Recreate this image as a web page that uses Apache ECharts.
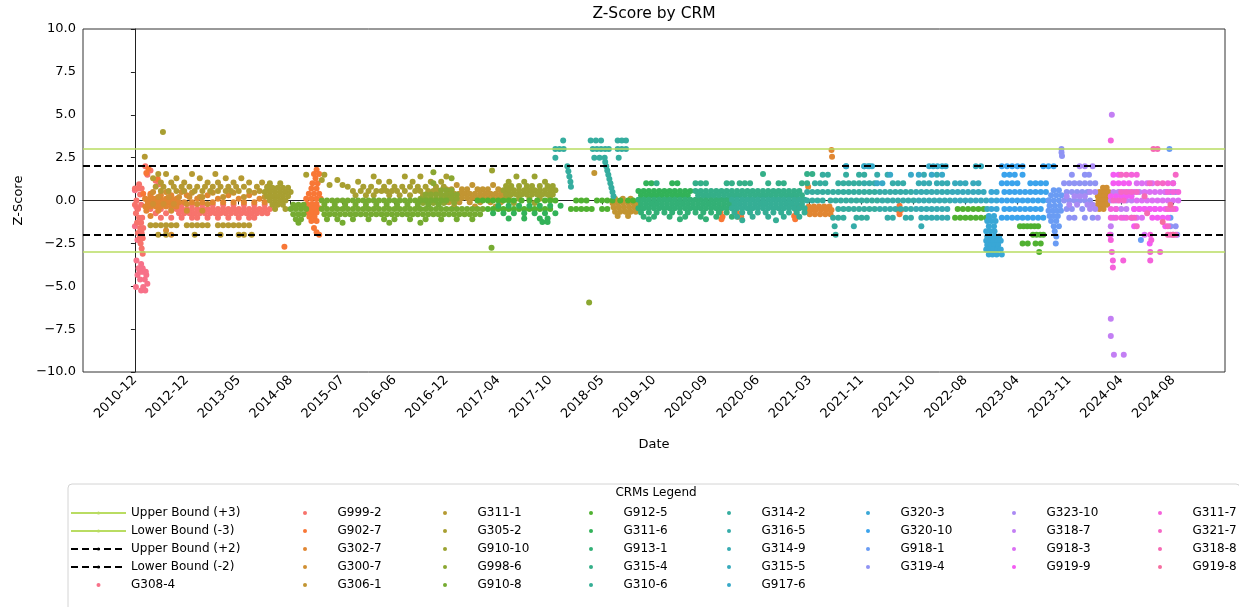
<!DOCTYPE html>
<html>
<head>
<meta charset="utf-8">
<title>Z-Score by CRM</title>
<script src="https://cdn.jsdelivr.net/npm/echarts@6/dist/echarts.min.js"></script>
<style>
  html, body { margin: 0; padding: 0; background: #fff; }
  #main { width: 1239px; height: 607px; }
</style>
</head>
<body>
<div id="main"></div>
<script>
// x tick labels, one per tick position 0..20
const dateLabels = ['2010-12', '2012-12', '2013-05', '2014-08', '2015-07', '2016-06', '2016-12',
  '2017-04', '2017-10', '2018-05', '2019-10', '2020-09', '2020-06', '2021-03', '2021-11',
  '2021-10', '2022-08', '2023-04', '2023-11', '2024-04', '2024-08'];

const crmNames = ['G308-4', 'G999-2', 'G902-7', 'G302-7', 'G300-7', 'G306-1', 'G311-1', 'G305-2',
  'G910-10', 'G998-6', 'G910-8', 'G912-5', 'G311-6', 'G913-1', 'G315-4', 'G310-6', 'G314-2',
  'G316-5', 'G314-9', 'G315-5', 'G917-6', 'G320-3', 'G320-10', 'G918-1', 'G319-4', 'G323-10',
  'G318-7', 'G918-3', 'G919-9', 'G311-7', 'G321-7', 'G318-8', 'G919-8'];

const boundNames = ['Upper Bound (+3)', 'Lower Bound (-3)', 'Upper Bound (+2)', 'Lower Bound (-2)'];
const boundValues = [3, -3, 2, -2];

// rows: [z-score, x, x, ...]  (x in tick units, 0 = first date tick)
const g308_4 = [
  [-5.25, 0.12, 0.2], [-5.05, 0.02, 0.16], [-4.85, 0.24], [-4.6, 0.1, 0.19], [-4.35, 0.05, 0.22],
  [-4.15, 0.09, 0.13, 0.17, 0.21], [-3.95, 0.07, 0.15], [-3.7, 0.12], [-3.5, 0.03],
  [-2.3, 0.05], [-1.5, 0.0], [-0.4, 0.03], [0.6, 0.0]
];
const g999_2 = [
  [2.0, 0.2], [1.75, 0.3], [1.5, 0.24], [1.15, 0.4], [0.95, 0.08, 0.46], [0.7, 0.0, 0.06, 0.13],
  [0.35, 0.1], [0.0, 0.03],
  [-0.25, 0.0, 0.12, 0.9, 1.1, 1.3, 1.5, 1.7, 1.9, 2.1, 2.3, 2.5],
  [-0.5, 0.06, 0.3, 0.5, 0.7, 0.8, 0.9, 1.0, 1.1, 1.2, 1.3, 1.4, 1.5, 1.6, 1.7, 1.8, 1.9, 2.0, 2.1, 2.2, 2.3, 2.4, 2.5, 2.6],
  [-0.75, 0.02, 0.4, 0.6, 0.85, 0.95, 1.05, 1.15, 1.25, 1.35, 1.45, 1.55, 1.65, 1.75, 1.85, 1.95, 2.05, 2.15, 2.25, 2.35, 2.45, 2.55],
  [-1.0, 0.08, 0.14, 0.5, 0.7, 0.9, 1.1, 1.2, 1.4, 1.6, 1.8, 2.0, 2.2, 2.3],
  [-1.3, 0.04, 0.12], [-1.6, 0.1, 0.16], [-1.9, 0.06, 0.13], [-2.2, 0.09, 0.15], [-2.5, 0.11],
  [-2.8, 0.13], [-3.1, 0.15]
];
const g902_7 = [
  [1.85, 0.26], [1.6, 0.22], [1.25, 0.44], [0.4, 0.16, 0.3], [0.1, 0.2, 0.35], [-0.2, 0.25, 0.45],
  [-2.7, 2.88],
  [1.8, 3.5], [1.55, 3.45, 3.55], [1.3, 3.48], [1.0, 3.42, 3.52], [0.7, 3.4, 3.5],
  [0.4, 3.35, 3.45, 3.55], [0.1, 3.3, 3.4, 3.5, 3.58], [-0.2, 3.32, 3.42, 3.5],
  [-0.45, 3.3, 3.38, 3.46, 3.55], [-0.7, 3.34, 3.42, 3.5], [-0.95, 3.36, 3.46], [-1.2, 3.4, 3.5],
  [-1.6, 3.45], [-1.85, 3.5], [-2.0, 3.55],
  [-0.45, 11.3], [-0.7, 11.28, 11.6], [-0.95, 11.32, 11.62, 11.68], [-1.1, 11.3],
  [0.1, 12.72], [-0.3, 12.7, 12.78], [-0.6, 12.74], [-0.9, 12.7, 12.76], [-1.1, 12.72],
  [-0.3, 14.73], [-0.55, 14.7, 14.76], [-0.8, 14.73]
];
const g302_7 = [
  [0.3, 0.3, 0.5, 0.7, 1.0, 1.4, 1.8, 2.2],
  [0.1, 0.2, 0.3, 0.4, 0.5, 0.6, 0.7, 0.8, 1.2, 1.6, 2.0, 2.4],
  [-0.1, 0.25, 0.35, 0.45, 0.55, 0.65, 0.75, 0.85, 0.95, 1.1, 1.3, 1.5, 1.7, 1.9, 2.1, 2.3, 2.5],
  [-0.35, 0.2, 0.3, 0.4, 0.5, 0.6, 0.7, 0.8], [-0.6, 0.22, 0.45], [-0.9, 0.3],
  [0.8, 12.97], [-0.35, 12.98, 13.08, 13.18, 13.28, 13.38],
  [-0.55, 12.95, 13.03, 13.12, 13.22, 13.32, 13.42], [-0.8, 13.0, 13.1, 13.2, 13.3, 13.4],
  [2.95, 13.42], [2.55, 13.43]
];
const g300_7 = [
  [0.5, 0.35, 0.6, 0.9], [0.2, 0.45, 0.65, 0.85, 1.05, 1.25], [-0.2, 0.35, 0.55, 0.75, 1.0, 1.2, 1.4],
  [-0.6, 0.7, 1.0, 1.3], [-1.75, 0.6], [-2.0, 0.7],
  [0.75, 18.65, 18.72], [0.5, 18.58, 18.64, 18.7, 18.76], [0.25, 18.55, 18.61, 18.67, 18.73, 18.78],
  [0.0, 18.56, 18.62, 18.68, 18.74], [-0.25, 18.55, 18.61, 18.67, 18.73], [-0.5, 18.58, 18.66]
];
const g306_1 = [
  [0.45, 1.1, 1.5, 1.9, 2.3], [0.2, 1.3, 1.7, 2.1, 2.5],
  [0.9, 6.2, 6.5, 6.9], [0.65, 6.0, 6.1, 6.3, 6.4, 6.6, 6.7, 6.8, 7.0, 7.2],
  [0.4, 6.05, 6.15, 6.25, 6.35, 6.45, 6.55, 6.65, 6.75, 6.85, 6.95, 7.05, 7.15],
  [0.15, 6.0, 6.1, 6.2, 6.3, 6.4, 6.5, 6.6, 6.7, 6.8, 6.9, 7.0, 7.1, 7.2],
  [-0.1, 6.05, 6.25, 6.45, 6.65, 6.85, 7.05], [-0.35, 6.15, 6.55, 6.95],
  [0.1, 9.25, 9.4, 9.55], [-0.15, 9.2, 9.3, 9.4, 9.5, 9.6, 9.7],
  [-0.4, 9.22, 9.32, 9.42, 9.52, 9.62, 9.7], [-0.65, 9.25, 9.35, 9.45, 9.55, 9.65], [-0.9, 9.3, 9.5],
  [1.6, 8.85]
];
const g311_1 = [
  [2.55, 0.19],
  [1.55, 0.45, 0.6, 1.1, 1.55], [1.3, 0.35, 0.8, 1.25, 1.75, 2.05],
  [1.05, 0.5, 0.7, 0.95, 1.4, 1.6, 1.9, 2.2, 2.45],
  [0.8, 0.4, 0.55, 0.75, 0.9, 1.05, 1.2, 1.35, 1.5, 1.65, 1.8, 1.95, 2.1, 2.35, 2.55],
  [0.55, 0.5, 0.65, 0.8, 0.95, 1.15, 1.3, 1.45, 1.6, 1.75, 1.85, 2.0, 2.2, 2.4, 2.6],
  [-1.45, 0.3, 0.4, 0.5, 0.6, 0.7, 0.8, 1.0, 1.1, 1.2, 1.3, 1.4, 1.6, 1.7, 1.8, 1.9, 2.0, 2.1, 2.2],
  [-2.0, 0.45, 0.6, 1.15, 1.65, 2.0, 2.1, 2.25]
];
const g305_2 = [
  [4.0, 0.54],
  [1.0, 2.6, 2.8], [0.75, 2.55, 2.65, 2.75, 2.85, 2.95], [0.5, 2.5, 2.6, 2.7, 2.8, 2.9, 3.0],
  [0.25, 2.55, 2.65, 2.75, 2.85, 2.95], [0.0, 2.6, 2.7, 2.8, 2.9], [-0.25, 2.65, 2.75, 2.85],
  [-0.5, 2.7, 2.9],
  [1.5, 3.3, 3.65], [1.2, 3.6, 3.9], [0.9, 3.75, 4.0],
  [1.4, 4.6, 5.2, 5.5, 6.0], [1.1, 4.3, 4.7, 4.9, 5.35, 5.7, 5.9],
  [0.8, 4.1, 4.4, 4.55, 4.8, 5.0, 5.15, 5.3, 5.45, 5.6, 5.8, 5.95],
  [0.55, 4.2, 4.35, 4.5, 4.65, 4.75, 4.85, 4.95, 5.05, 5.2, 5.4, 5.5, 5.65, 5.75, 5.85],
  [0.3, 4.25, 4.45, 4.6, 4.9, 5.1, 5.3, 5.55, 5.7, 5.9]
];
const g910_10 = [
  [1.75, 6.88], [1.4, 7.35, 7.7], [1.1, 7.2, 7.5, 7.9],
  [0.85, 7.15, 7.25, 7.4, 7.55, 7.65, 7.8, 7.95, 8.05],
  [0.6, 7.1, 7.2, 7.3, 7.4, 7.5, 7.6, 7.7, 7.8, 7.9, 8.0, 8.1],
  [0.35, 7.15, 7.25, 7.35, 7.45, 7.55, 7.65, 7.75, 7.85, 7.95, 8.05],
  [0.1, 7.2, 7.4, 7.6, 7.8, 8.0], [-0.15, 7.3, 7.7]
];
const g998_6 = [
  [-5.95, 8.75],
  [1.65, 5.75], [1.3, 6.1], [1.0, 5.75], [0.6, 5.9, 6.0, 6.1],
  [0.35, 5.6, 5.7, 5.8, 5.9, 6.0, 6.1, 6.2], [0.1, 5.5, 5.6, 5.7, 5.8, 5.9, 6.0, 6.1, 6.2],
  [-0.15, 5.55, 5.75, 5.95, 6.15]
];
const g910_8 = [
  [0.0, 3.6, 3.7, 3.8, 3.9, 4.0, 4.1, 4.2, 4.3, 4.4, 4.5, 4.6, 4.7, 4.8, 4.9, 5.0, 5.1, 5.2, 5.3, 5.4, 5.5, 5.6, 5.7, 5.8, 5.9, 6.0],
  [-0.25, 3.05, 3.15, 3.25, 3.65, 3.85, 4.05, 4.25, 4.45, 4.65, 4.85, 5.05, 5.25, 5.45, 5.65, 5.85],
  [-0.5, 3.0, 3.1, 3.2, 3.3, 3.6, 3.7, 3.8, 3.9, 4.0, 4.1, 4.2, 4.3, 4.4, 4.5, 4.6, 4.7, 4.8, 4.9, 5.0, 5.1, 5.2, 5.3, 5.4, 5.5, 5.6, 5.7, 5.8, 5.9, 6.0, 6.1, 6.2, 6.3, 6.4, 6.5, 6.6, 6.7],
  [-0.8, 3.05, 3.15, 3.25, 3.65, 3.75, 3.85, 3.95, 4.05, 4.15, 4.25, 4.35, 4.45, 4.55, 4.65, 4.75, 4.85, 4.95, 5.05, 5.15, 5.25, 5.35, 5.45, 5.55, 5.65, 5.75, 5.85, 5.95, 6.05, 6.15, 6.25, 6.35, 6.45, 6.55, 6.65],
  [-1.1, 3.1, 3.2, 3.7, 3.9, 4.2, 4.5, 4.8, 5.0, 5.3, 5.6, 5.9, 6.2, 6.5],
  [-1.3, 3.15, 4.0, 4.9, 5.5], [-2.75, 6.87]
];
const g912_5 = [
  [0.0, 6.6, 6.7, 6.8, 6.9, 7.0, 7.1, 7.2, 7.3, 7.45, 7.6, 7.75, 7.9, 8.0, 8.1, 8.5, 8.6, 8.7, 8.9, 9.0, 9.1, 9.2, 9.35, 9.5, 9.6],
  [-0.5, 6.8, 6.9, 7.0, 7.1, 7.2, 7.3, 7.4, 7.5, 7.6, 7.7, 7.8, 7.9, 8.0, 8.4, 8.5, 8.6, 8.7, 8.8, 9.0, 9.1],
  [-0.5, 15.85, 15.95, 16.05, 16.15, 16.25, 16.35], [-1.0, 15.8, 15.9, 16.0, 16.1, 16.2, 16.3, 16.4],
  [-1.5, 17.05, 17.12, 17.19, 17.26, 17.33, 17.4], [-2.0, 17.3, 17.37, 17.44, 17.5],
  [-2.5, 17.1, 17.2, 17.35, 17.45], [-3.0, 17.42]
];
const g311_6 = [
  [-0.3, 7.0, 7.2, 7.4, 7.6, 7.8, 8.0, 8.2], [-0.75, 6.9, 7.1, 7.3, 7.5, 7.7, 7.9, 8.1],
  [-1.05, 7.2, 7.5, 7.8, 7.95], [-1.25, 7.85, 7.95],
  [0.55, 9.7, 9.8, 9.9, 10.0, 10.1, 10.2, 10.3, 10.4, 10.5, 10.6, 10.7],
  [0.3, 9.75, 9.85, 9.95, 10.05, 10.15, 10.25, 10.35, 10.45, 10.55, 10.65],
  [1.0, 9.85, 9.95, 10.35, 10.45]
];
const g913_1 = [
  [0.05, 9.7, 9.8, 9.9, 10.0, 10.1, 10.2, 10.3, 10.4, 10.5, 10.6, 10.7, 10.8, 10.9, 11.0, 11.1, 11.2, 11.3, 11.4, 11.5],
  [-0.2, 9.75, 9.85, 9.95, 10.05, 10.15, 10.25, 10.35, 10.45, 10.55, 10.65, 10.75, 10.85, 10.95, 11.05, 11.15, 11.25, 11.35, 11.45],
  [-0.45, 9.7, 9.8, 9.9, 10.0, 10.1, 10.2, 10.3, 10.4, 10.5, 10.6, 10.7, 10.8, 10.9, 11.0, 11.1, 11.2, 11.3, 11.4, 11.5],
  [-0.7, 9.75, 9.9, 10.05, 10.2, 10.35, 10.5, 10.65, 10.8, 10.95, 11.1, 11.25, 11.4],
  [-0.95, 9.8, 10.0, 10.3, 10.6, 10.9, 11.2, 11.5], [-1.1, 9.9, 10.5, 11.0]
];
const g315_4 = [
  [0.55, 10.8, 10.9, 11.0, 11.1, 11.2, 11.3, 11.4, 11.5, 11.6, 11.7, 11.8, 11.9, 12.0, 12.1, 12.2, 12.3, 12.4, 12.5, 12.6, 12.7, 12.8],
  [0.3, 10.85, 10.95, 11.05, 11.15, 11.25, 11.35, 11.45, 11.55, 11.65, 11.75, 11.85, 11.95, 12.05, 12.15, 12.25, 12.35, 12.45, 12.55, 12.65, 12.75, 12.85],
  [1.0, 10.05, 10.8, 10.9, 11.0, 11.4, 11.5, 11.65, 11.75, 11.85, 12.2, 12.4, 12.5, 12.85, 12.95],
  [1.55, 12.1, 12.95, 13.05]
];
const g310_6 = [
  [0.05, 11.5, 11.6, 11.7, 11.8, 11.9, 12.0, 12.1, 12.2, 12.3, 12.4, 12.5, 12.6, 12.7, 12.8, 12.9],
  [-0.2, 11.55, 11.65, 11.75, 11.85, 11.95, 12.05, 12.15, 12.25, 12.35, 12.45, 12.55, 12.65, 12.75, 12.85],
  [-0.45, 11.5, 11.6, 11.7, 11.8, 11.9, 12.0, 12.1, 12.2, 12.3, 12.4, 12.5, 12.6, 12.7, 12.8, 12.9],
  [-0.7, 11.55, 11.7, 11.85, 12.0, 12.15, 12.3, 12.45, 12.6, 12.75, 12.9],
  [-0.95, 11.6, 11.9, 12.2, 12.5, 12.8], [-1.15, 11.7, 12.35]
];
const g314_2 = [
  [3.5, 8.25], [3.0, 8.1, 8.18, 8.26], [2.5, 8.1],
  [2.0, 8.33], [1.7, 8.35], [1.4, 8.37], [1.1, 8.39], [0.8, 8.4],
  [3.5, 8.78, 8.88, 8.98, 9.3, 9.38, 9.46], [3.0, 8.82, 8.9, 8.98, 9.06, 9.13, 9.3, 9.38, 9.46],
  [2.5, 8.85, 8.95, 9.05, 9.32],
  [2.25, 9.06], [2.0, 9.08], [1.75, 9.1], [1.5, 9.12], [1.25, 9.14], [1.0, 9.16], [0.75, 9.18],
  [0.5, 9.2], [0.25, 9.22],
  [2.0, 13.7], [1.5, 13.25, 13.35, 13.7, 13.95, 14.05],
  [1.0, 13.1, 13.2, 13.3, 13.55, 13.65, 13.75, 13.85, 13.95],
  [0.5, 12.95, 13.05, 13.15, 13.25, 13.35, 13.45, 13.55, 13.65, 13.75, 13.85, 13.95, 14.05, 14.15, 14.25],
  [0.0, 12.95, 13.05, 13.15, 13.25, 13.4, 13.5, 13.6, 13.7, 13.8, 13.9, 14.0, 14.1, 14.2, 14.3],
  [-0.5, 13.55, 13.65, 13.75, 13.85, 13.95, 14.05, 14.15, 14.25],
  [-1.0, 13.45, 13.55, 13.65, 13.9, 14.0, 14.1], [-1.5, 13.48], [-2.0, 13.5]
];
const g316_5 = [
  [2.0, 14.05, 14.15], [1.5, 14.3, 14.5], [1.0, 14.05, 14.15, 14.25, 14.6, 14.7, 14.8],
  [0.5, 14.35, 14.45, 14.55, 14.65, 14.75, 14.85, 14.95], [0.0, 14.4, 14.5, 14.6, 14.7, 14.8, 14.9, 15.0],
  [-0.5, 14.35, 14.45, 14.55, 14.65, 14.75, 14.85, 14.95], [-1.0, 14.5, 14.6, 14.85, 14.95],
  [-1.5, 13.85]
];
const g314_9 = [
  [1.5, 15.2, 15.45], [1.0, 15.1, 15.2, 15.3, 15.45, 15.55, 15.65],
  [0.5, 15.05, 15.15, 15.25, 15.35, 15.45, 15.55, 15.65], [0.0, 15.1, 15.2, 15.3, 15.4, 15.5, 15.6, 15.7],
  [-0.5, 15.05, 15.15, 15.25, 15.35, 15.45, 15.55, 15.65],
  [-1.0, 15.15, 15.25, 15.35, 15.45, 15.55, 15.65], [-1.5, 15.15]
];
const g315_5 = [
  [2.0, 16.2, 16.3], [1.0, 15.8, 15.9, 16.0, 16.15, 16.25],
  [0.5, 15.75, 15.85, 15.95, 16.05, 16.15, 16.25, 16.35], [0.0, 15.8, 15.9, 16.0, 16.1, 16.2, 16.3, 16.4],
  [-0.5, 16.42], [-1.0, 16.45]
];
const g917_6 = [
  [2.0, 13.7, 14.05, 14.12, 14.2, 15.3, 15.38, 15.46, 15.55, 15.62],
  [1.5, 14.55, 14.95, 15.1, 15.35, 15.55], [1.0, 14.3, 14.4]
];
const g320_3 = [
  [0.5, 16.5, 16.6], [0.0, 16.5, 16.6], [-0.5, 16.5, 16.6],
  [-0.9, 16.45, 16.55], [-1.2, 16.42, 16.5, 16.58], [-1.5, 16.45, 16.55], [-1.8, 16.4, 16.48, 16.56],
  [-2.1, 16.42, 16.5, 16.58, 16.65], [-2.35, 16.4, 16.47, 16.54, 16.61, 16.68],
  [-2.6, 16.42, 16.49, 16.56, 16.63], [-2.85, 16.4, 16.47, 16.54, 16.61, 16.68],
  [-3.15, 16.45, 16.52, 16.6, 16.7]
];
const g320_10 = [
  [2.0, 16.7, 16.8, 16.9, 17.0, 17.1, 17.5, 17.6, 17.7], [1.5, 16.75, 16.85, 16.95, 17.1],
  [1.0, 16.7, 16.8, 16.9, 17.0, 17.25, 17.35, 17.45, 17.55],
  [0.5, 16.75, 16.85, 16.95, 17.05, 17.15, 17.25, 17.35, 17.45, 17.55],
  [0.0, 16.7, 16.8, 16.9, 17.0, 17.1, 17.2, 17.3, 17.4, 17.5, 17.6],
  [-0.5, 16.75, 16.85, 16.95, 17.05, 17.15, 17.25, 17.35, 17.45],
  [-1.0, 16.7, 16.8, 16.9, 17.0, 17.1, 17.2, 17.3, 17.4, 17.5]
];
const g918_1 = [
  [0.6, 17.7, 17.8], [0.3, 17.65, 17.75, 17.85], [0.0, 17.6, 17.7, 17.8], [-0.3, 17.62, 17.72, 17.82],
  [-0.6, 17.6, 17.68, 17.76, 17.84], [-0.9, 17.62, 17.7, 17.78], [-1.2, 17.65, 17.75],
  [-1.5, 17.7, 17.8], [-1.8, 17.72], [-2.1, 17.75], [-2.5, 17.74],
  [3.0, 19.93], [-2.3, 19.38], [-1.0, 19.95]
];
const g319_4 = [
  [3.0, 17.85], [2.8, 17.85], [2.6, 17.86], [1.5, 18.05, 18.3, 18.38],
  [1.0, 17.9, 18.0, 18.1, 18.2, 18.3, 18.4, 18.5], [0.5, 17.95, 18.05, 18.15, 18.25, 18.35],
  [0.0, 17.9, 18.0, 18.1, 18.2, 18.3, 18.4], [-0.5, 17.95, 18.05, 18.25], [-1.0, 18.0, 18.1, 18.3, 18.45],
  [1.0, 20.0], [0.5, 19.85, 19.95, 20.05], [-1.5, 19.95, 20.05], [-2.0, 20.0, 20.08]
];
const g323_10 = [
  [2.0, 18.2, 18.3, 18.45], [0.5, 18.4, 18.5], [0.25, 17.95, 18.1, 18.2, 18.3],
  [-0.25, 18.0, 18.15, 18.35, 18.45], [-0.5, 18.4, 18.5], [-1.0, 18.55]
];
const g318_7 = [
  [5.0, 18.82], [-6.9, 18.8], [-7.9, 18.8], [-9.0, 18.86, 19.05],
  [0.5, 18.85, 18.95, 19.05, 19.15, 19.25, 19.35], [0.0, 18.8, 18.9, 19.0, 19.1, 19.2],
  [-0.5, 18.9, 19.0, 19.1], [-1.0, 18.85, 19.05, 19.2], [-1.5, 18.8], [-2.0, 18.8]
];
const g918_3 = [
  [1.0, 19.3, 19.4, 19.5, 19.6], [0.5, 19.45, 19.55, 19.65, 19.75, 19.85],
  [0.0, 19.3, 19.4, 19.5, 19.6, 19.7, 19.8, 19.9, 20.0, 20.1],
  [-0.5, 19.25, 19.35, 19.45, 19.55, 19.65], [-1.0, 19.3, 19.4], [-2.0, 19.45]
];
const g919_9 = [
  [1.5, 18.85, 18.95], [1.0, 18.85, 18.95, 19.05, 19.15], [0.25, 18.8, 18.9, 19.0, 19.1, 19.2],
  [-0.5, 19.25, 19.35, 19.45, 19.55, 19.65, 19.75, 19.85, 19.95, 20.05],
  [-1.0, 19.6, 19.7, 19.8, 19.9], [-1.5, 19.25, 19.85], [-2.5, 19.55]
];
const g311_7 = [
  [3.5, 18.8], [1.5, 19.2, 19.3], [1.0, 19.9, 20.0], [0.5, 19.9, 20.0, 20.1],
  [-0.5, 18.8, 18.9], [-1.0, 18.8, 18.9, 19.0, 19.1], [-2.0, 18.78, 19.56], [-2.3, 18.8, 19.58],
  [-3.0, 18.82, 19.56, 19.75], [-3.5, 18.84, 19.04, 19.56], [-3.9, 18.84]
];
const g321_7 = [
  [1.5, 19.0, 19.1, 20.05], [1.0, 19.55, 19.7, 19.8], [0.5, 19.0, 19.1, 19.2, 19.3],
  [0.0, 18.85, 18.95, 19.05], [-0.5, 19.9, 20.0], [-1.0, 19.2, 19.25], [-1.5, 19.3, 19.9],
  [-2.0, 19.95, 20.05]
];
const g318_8 = [[3.0, 19.62, 19.7], [0.25, 19.45], [-0.75, 19.5], [-2.0, 19.9]];
const g919_8 = [[-0.25, 19.95], [-1.25, 19.8], [-2.0, 20.0]];

const crmRows = [g308_4, g999_2, g902_7, g302_7, g300_7, g306_1, g311_1, g305_2, g910_10, g998_6,
  g910_8, g912_5, g311_6, g913_1, g315_4, g310_6, g314_2, g316_5, g314_9, g315_5, g917_6,
  g320_3, g320_10, g918_1, g319_4, g323_10, g318_7, g918_3, g919_9, g311_7, g321_7, g318_8, g919_8];

// seaborn-style husl palette (HSLuv -> sRGB)
const M = [[3.240969941904521, -1.537383177570093, -0.498610760293],
  [-0.96924363628087, 1.87596750150772, 0.041555057407175],
  [0.055630079696993, -0.20397695888897, 1.056971514242878]];
function husl(h, s, l) {
  const sub1 = Math.pow(l + 16, 3) / 1560896;
  const sub2 = sub1 > 0.0088564516 ? sub1 : l / 903.2962962;
  const hr = h / 360 * 2 * Math.PI;
  let maxC = Infinity;
  M.forEach(([m1, m2, m3]) => {
    [0, 1].forEach(t => {
      const top1 = (284517 * m1 - 94839 * m3) * sub2;
      const top2 = (838422 * m3 + 769860 * m2 + 731718 * m1) * l * sub2 - 769860 * t * l;
      const bottom = (632260 * m3 - 126452 * m2) * sub2 + 126452 * t;
      const len = (top2 / bottom) / (Math.sin(hr) - (top1 / bottom) * Math.cos(hr));
      if (len >= 0) maxC = Math.min(maxC, len);
    });
  });
  const c = maxC / 100 * s;
  const u = Math.cos(hr) * c, v = Math.sin(hr) * c;
  const Y = l > 8 ? Math.pow((l + 16) / 116, 3) : l / 903.2962962;
  const vu = u / (13 * l) + 0.19783000664283;
  const vv = v / (13 * l) + 0.46831999493879;
  const X = 9 * Y * vu / (4 * vv);
  const Z = (9 * Y - 15 * vv * Y - vv * X) / (3 * vv);
  return '#' + M.map(r => {
    let k = r[0] * X + r[1] * Y + r[2] * Z;
    k = k <= 0.0031308 ? 12.92 * k : 1.055 * Math.pow(k, 1 / 2.4) - 0.055;
    return Math.round(Math.max(0, Math.min(1, k)) * 255).toString(16).padStart(2, '0');
  }).join('');
}
const n = crmNames.length;
const palette = crmNames.map((_, i) => husl(((i / n + 0.01) % 1) * 359, 0.9 * 99, 0.65 * 99));

function toPoints(rows) {
  const pts = [];
  rows.forEach(r => { for (let i = 1; i < r.length; i++) pts.push([r[i], r[0]]); });
  return pts;
}

const FONT = 'DejaVu Sans';
const limeLine = '#b9dc62';
const boundStyles = [
  { color: limeLine, width: 1.6, type: 'solid' },
  { color: limeLine, width: 1.6, type: 'solid' },
  { color: '#000', width: 1.8, type: [7, 4] },
  { color: '#000', width: 1.8, type: [7, 4] }
];

const series = boundNames.map((name, i) => ({
  name: name,
  type: 'line',
  data: [],
  symbol: 'none',
  color: boundStyles[i].color,
  lineStyle: boundStyles[i],
  markLine: {
    silent: true,
    symbol: 'none',
    label: { show: false },
    lineStyle: boundStyles[i],
    data: [{ yAxis: boundValues[i] }]
  }
}));
crmNames.forEach((name, i) => {
  series.push({
    name: name,
    type: 'scatter',
    symbol: 'circle',
    symbolSize: 6,
    color: palette[i],
    itemStyle: { color: palette[i], opacity: 1 },
    data: toPoints(crmRows[i])
  });
});

// legend laid out as 8 columns of up to 5 rows; text x of each column
const legendCols = [
  boundNames.concat([crmNames[0]]),
  crmNames.slice(1, 6), crmNames.slice(6, 11), crmNames.slice(11, 16), crmNames.slice(16, 21),
  crmNames.slice(21, 25), crmNames.slice(25, 29), crmNames.slice(29, 33)
];
const legendTextX = [131, 338, 478, 624, 762, 901, 1047, 1193];
// columns 2..8 hold only dots, whose box starts at the dot itself (dot centre = text x - 33)
const legends = legendCols.map((names, c) => ({
  data: names,
  orient: 'vertical',
  align: 'left',
  left: c === 0 ? 70 : legendTextX[c] - 35,
  top: 504,
  padding: 0,
  itemGap: 0,
  itemWidth: 55,
  itemHeight: 4,
  selectedMode: false,
  textStyle: { fontFamily: FONT, fontSize: 12, color: '#000', lineHeight: 18 }
}));

const ticks = dateLabels.map((_, i) => i);

const chart = echarts.init(document.getElementById('main'));
chart.setOption({
  animation: false,
  backgroundColor: '#fff',
  textStyle: { fontFamily: FONT },
  grid: { left: 83, right: 14, top: 29, bottom: 235, show: true, borderColor: '#333', borderWidth: 1 },
  xAxis: {
    type: 'value',
    min: -1,
    max: 21,
    name: 'Date',
    nameLocation: 'middle',
    nameGap: 66,
    nameTextStyle: { fontFamily: FONT, fontSize: 13, color: '#000' },
    axisLine: { lineStyle: { color: '#222' } },
    axisTick: { customValues: ticks, length: 4, lineStyle: { color: '#222' } },
    axisLabel: {
      customValues: ticks,
      rotate: 45,
      margin: 6,
      fontFamily: FONT,
      fontSize: 13,
      color: '#000',
      formatter: v => dateLabels[Math.round(v)]
    },
    splitLine: { show: false }
  },
  yAxis: {
    type: 'value',
    min: -10,
    max: 10,
    interval: 2.5,
    name: 'Z-Score',
    nameLocation: 'middle',
    nameGap: 56,
    nameTextStyle: { fontFamily: FONT, fontSize: 13, color: '#000' },
    axisLine: { show: true, lineStyle: { color: '#222' } },
    axisTick: { show: true, length: 4, lineStyle: { color: '#222' } },
    axisLabel: {
      margin: 7,
      fontFamily: FONT,
      fontSize: 13,
      color: '#000',
      formatter: v => (v < 0 ? '\u2212' : '') + Math.abs(v).toFixed(1)
    },
    splitLine: { show: false }
  },
  legend: legends,
  graphic: [
    { type: 'text', style: { text: 'Z-Score by CRM', x: 654, y: 14, textAlign: 'center', textVerticalAlign: 'middle', font: '15.5px "DejaVu Sans"', fill: '#000' } },
    { type: 'rect', shape: { x: 68, y: 484, width: 1172, height: 140, r: 4 }, style: { fill: 'none', stroke: '#d4d4d4', lineWidth: 1 } },
    { type: 'text', style: { text: 'CRMs Legend', x: 656, y: 493, textAlign: 'center', textVerticalAlign: 'middle', font: '12px "DejaVu Sans"', fill: '#000' } }
  ],
  series: series
});
</script>
</body>
</html>
